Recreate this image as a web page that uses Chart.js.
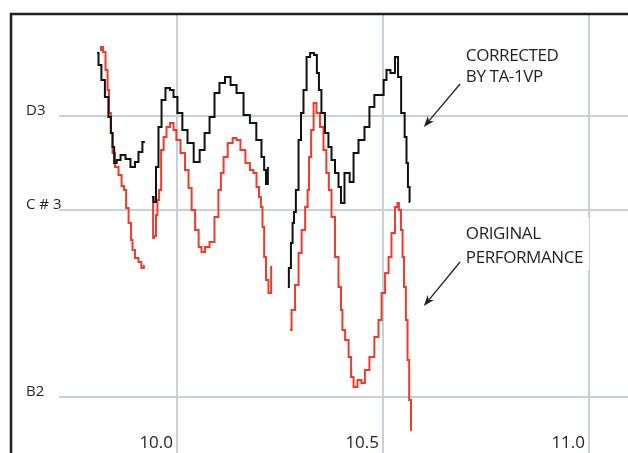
<!DOCTYPE html>
<html><head><meta charset="utf-8">
<script src="https://cdn.jsdelivr.net/npm/chart.js@4.4.1/dist/chart.umd.min.js"></script>
<style>html,body{margin:0;padding:0;background:#fff;overflow:hidden}canvas{display:block}</style>
</head><body>
<canvas id="c" width="628" height="453"></canvas>
<script>
// ---- data (time in seconds, pitch in semitones: D3 = 50) ----
const correctedTime = [
  9.806, 9.813, 9.820, 9.830, 9.837, 9.842, 9.845, 9.850, 9.857, 9.869, 9.881, 9.893, 9.903, 9.910, 9.922, null,
  9.939, 9.947, 9.951, 9.959, 9.966, 9.978, 9.988, 9.995, 10.007, 10.019, 10.032, 10.049, 10.061, 10.073, 10.085,
  10.097, 10.109, 10.124, 10.136, 10.153, 10.170, 10.184, 10.201, 10.209, 10.214, 10.218, 10.223, null,
  10.269, 10.274, 10.279, 10.282, 10.286, 10.291, 10.299, 10.303, 10.311, 10.318, 10.328, 10.337, 10.342, 10.347,
  10.354, 10.364, 10.371, 10.379, 10.388, 10.396, 10.400, 10.413, 10.425, 10.432, 10.449, 10.461, 10.473, 10.485,
  10.498, 10.505, 10.512, 10.524, 10.534, 10.539, 10.549, 10.556, 10.558, 10.563, 10.566
];
const correctedPitch = [
  50.672, 50.544, 50.384, 50.203, 49.989, 49.819, 49.669, 49.498, 49.530, 49.584, 49.541, 49.456, 49.509, 49.616, 49.723, null,
  49.136, 49.082, 49.456, 49.883, 50.171, 50.299, 50.277, 50.203, 50.032, 49.851, 49.712, 49.509, 49.637, 49.819, 49.989,
  50.245, 50.352, 50.416, 50.331, 50.245, 50.011, 49.925, 49.744, 49.562, 49.424, 49.274, 49.445, null,
  48.175, 48.378, 48.645, 48.858, 48.975, 49.210, 49.744, 50.032, 50.277, 50.630, 50.672, 50.651, 50.459, 50.277,
  50.032, 49.819, 49.669, 49.530, 49.392, 49.242, 49.072, 49.392, 49.296, 49.605, 49.744, 49.883, 50.096, 50.224,
  50.224, 50.384, 50.491, 50.459, 50.630, 50.416, 50.032, 49.776, 49.498, 49.242, 49.082
];
const originalTime = [
  9.813, 9.818, 9.823, 9.830, 9.833, 9.837, 9.842, 9.845, 9.854, 9.862, 9.869, 9.874, 9.879, 9.886, 9.891, 9.893,
  9.903, 9.910, 9.917, 9.922, null,
  9.942, 9.942, 9.947, 9.951, 9.954, 9.959, 9.964, 9.971, 9.978, 9.988, 9.995, 10.002, 10.015, 10.024, 10.032,
  10.039, 10.049, 10.056, 10.063, 10.073, 10.085, 10.097, 10.104, 10.109, 10.117, 10.129, 10.141, 10.148, 10.160,
  10.172, 10.182, 10.189, 10.197, 10.201, 10.206, 10.209, 10.214, 10.218, 10.226, 10.231, null,
  10.274, 10.282, 10.291, 10.299, 10.306, 10.316, 10.318, 10.323, 10.328, 10.335, 10.342, 10.352, 10.359, 10.366,
  10.371, 10.379, 10.388, 10.396, 10.400, 10.403, 10.413, 10.420, 10.425, 10.432, 10.444, 10.451, 10.461, 10.473,
  10.485, 10.493, 10.500, 10.510, 10.517, 10.524, 10.534, 10.536, 10.541, 10.546, 10.549, 10.553, 10.558, 10.561,
  10.566, 10.570
];
const originalPitch = [
  50.704, 50.736, 50.683, 50.491, 50.277, 50.032, 49.819, 49.605, 49.456, 49.370, 49.253, 49.210, 49.018, 48.858, 48.677, 48.570,
  48.485, 48.442, 48.378, 48.399, null,
  49.125, 48.698, 48.720, 48.943, 49.104, 49.210, 49.637, 49.776, 49.883, 49.925, 49.851, 49.744, 49.605, 49.424, 49.232,
  48.997, 48.783, 48.602, 48.549, 48.602, 48.655, 48.922, 49.210, 49.392, 49.562, 49.712, 49.765, 49.744, 49.637,
  49.498, 49.424, 49.392, 49.242, 49.136, 49.029, 48.815, 48.495, 48.250, 48.111, 48.389, null,
  47.716, 47.930, 48.196, 48.538, 48.783, 49.029, 49.210, 49.562, 49.851, 50.139, 50.032, 49.883, 49.637, 49.392,
  49.210, 48.922, 48.495, 48.175, 47.930, 47.716, 47.609, 47.428, 47.215, 47.108, 47.183, 47.151, 47.289, 47.428,
  47.642, 47.823, 48.111, 48.325, 48.495, 48.751, 49.029, 49.072, 48.997, 48.783, 48.495, 48.175, 47.823, 47.396,
  46.969, 46.649
];
const timeTicks = [10.0, 10.5, 11.0];
const pitchTicks = [47, 49, 50];
const pitchNames = ['B2', 'C # 3', 'D3'];
const noteTexts = [['CORRECTED', 'BY TA-1VP'], ['ORIGINAL', 'PERFORMANCE']];

// ---- layout / style ----
const timeMin = 9.7136, timeMax = 11.0946;
const pitchMin = 46.404, pitchMax = 51.089;
const noteLayout = [
  { text: [10.701, 50.587], lineGap: 21, tail: [10.687, 50.342], tip: [10.599, 49.883], box: false },
  { text: [10.701, 48.687], lineGap: 24, tail: [10.687, 48.442], tip: [10.599, 47.972], box: true }
];
const INK = '#231f20';
const GRID = '#c9d0d4';
const FONT = "'Open Sans', sans-serif";

const toPoints = (xs, ys) => xs.map((t, i) => (t === null ? { x: null, y: null } : { x: t, y: ys[i] }));

const framePlugin = {
  id: 'frame',
  afterDraw(chart) {
    const { ctx, chartArea } = chart;
    const left = chartArea.left - 48;
    ctx.save();
    ctx.strokeStyle = INK;
    ctx.lineWidth = 2.5;
    ctx.beginPath();
    ctx.moveTo(left, chart.height);
    ctx.lineTo(left, chartArea.top);
    ctx.lineTo(chart.width, chartArea.top);
    ctx.stroke();
    ctx.restore();
  }
};

const notePlugin = {
  id: 'notes',
  afterDatasetsDraw(chart) {
    const { ctx, scales: { x, y } } = chart;
    ctx.save();
    ctx.font = "17px " + FONT;
    ctx.letterSpacing = '-0.4px';
    noteLayout.forEach((n, i) => {
      const lines = noteTexts[i];
      const tx = x.getPixelForValue(n.text[0]);
      const ty = y.getPixelForValue(n.text[1]);
      if (n.box) {
        const w = Math.max(...lines.map(l => ctx.measureText(l).width));
        ctx.fillStyle = '#fff';
        ctx.fillRect(tx - 4, ty - 21, w + 10, n.lineGap * (lines.length - 1) + 28);
      }
      ctx.fillStyle = INK;
      ctx.textBaseline = 'alphabetic';
      ctx.textAlign = 'left';
      lines.forEach((l, k) => ctx.fillText(l, tx, ty + k * n.lineGap));
      const x0 = x.getPixelForValue(n.tail[0]), y0 = y.getPixelForValue(n.tail[1]);
      const x1 = x.getPixelForValue(n.tip[0]), y1 = y.getPixelForValue(n.tip[1]);
      const a = Math.atan2(y1 - y0, x1 - x0);
      ctx.strokeStyle = INK;
      ctx.lineWidth = 1.3;
      ctx.beginPath();
      ctx.moveTo(x0, y0);
      ctx.lineTo(x1 - 8 * Math.cos(a), y1 - 8 * Math.sin(a));
      ctx.stroke();
      ctx.beginPath();
      ctx.moveTo(x1, y1);
      ctx.lineTo(x1 - 11 * Math.cos(a) + 4 * Math.sin(a), y1 - 11 * Math.sin(a) - 4 * Math.cos(a));
      ctx.lineTo(x1 - 8 * Math.cos(a), y1 - 8 * Math.sin(a));
      ctx.lineTo(x1 - 11 * Math.cos(a) - 4 * Math.sin(a), y1 - 11 * Math.sin(a) + 4 * Math.cos(a));
      ctx.closePath();
      ctx.fillStyle = INK;
      ctx.fill();
    });
    ctx.restore();
  }
};

Chart.defaults.font.family = FONT;
Chart.defaults.color = INK;

new Chart(document.getElementById('c'), {
  type: 'line',
  data: {
    datasets: [
      {
        label: 'Corrected by TA-1VP',
        data: toPoints(correctedTime, correctedPitch),
        borderColor: '#111111',
        borderWidth: 2,
        pointRadius: 0,
        stepped: 'middle',
        spanGaps: false,
        order: 0
      },
      {
        label: 'Original performance',
        data: toPoints(originalTime, originalPitch),
        borderColor: '#ee3b2b',
        borderWidth: 2,
        pointRadius: 0,
        stepped: 'middle',
        spanGaps: false,
        order: 1
      }
    ]
  },
  options: {
    responsive: false,
    devicePixelRatio: 1,
    animation: false,
    events: [],
    layout: { padding: { left: 26, top: 14, right: 0, bottom: 0 } },
    plugins: { legend: { display: false }, tooltip: { enabled: false } },
    scales: {
      x: {
        type: 'linear',
        position: 'bottom',
        min: timeMin,
        max: timeMax,
        afterBuildTicks: s => { s.ticks = timeTicks.map(v => ({ value: v })); },
        afterFit: s => { s.paddingLeft = 0; s.paddingRight = 0; s.height = 0; },
        grid: { color: GRID, lineWidth: 2, drawTicks: false },
        border: { display: false },
        ticks: {
          font: { size: 17 },
          mirror: true,
          align: 'end',
          labelOffset: -4,
          padding: 0,
          maxRotation: 0,
          autoSkip: false,
          callback: v => v.toFixed(1)
        }
      },
      y: {
        type: 'linear',
        position: 'left',
        min: pitchMin,
        max: pitchMax,
        afterBuildTicks: s => { s.ticks = pitchTicks.map(v => ({ value: v })); },
        afterFit: s => { s.width = 33; s.paddingTop = 0; s.paddingBottom = 0; },
        grid: { color: GRID, lineWidth: 2, drawTicks: false },
        border: { display: false },
        ticks: {
          font: { size: 15 },
          mirror: true,
          padding: -33,
          labelOffset: -5,
          autoSkip: false,
          callback: v => pitchNames[pitchTicks.indexOf(v)] ?? ''
        }
      }
    }
  },
  plugins: [framePlugin, notePlugin]
});
</script>
</body></html>
